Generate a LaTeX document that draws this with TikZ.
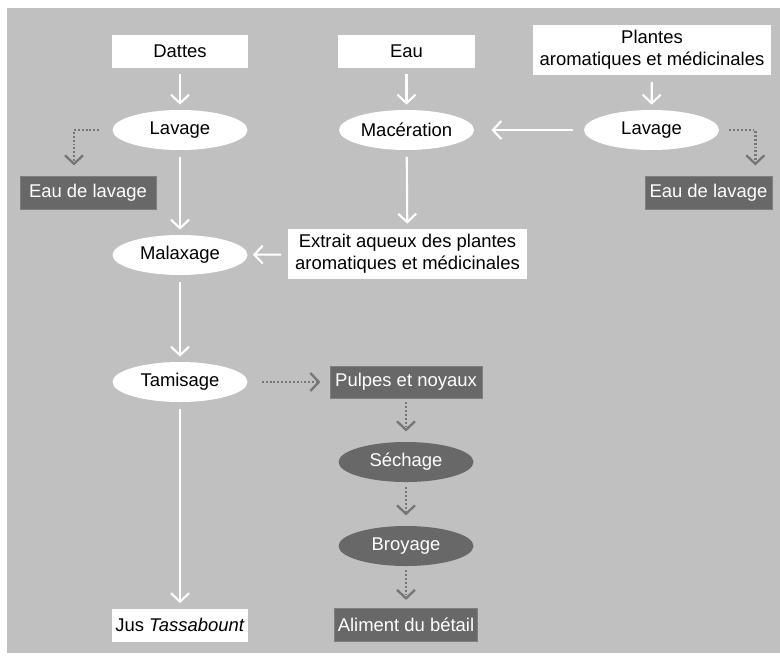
\documentclass[tikz,border=0pt]{standalone}
\usepackage{fontspec}
\setmainfont{Liberation Sans}
\usepackage{tikz}
\usetikzlibrary{arrows.meta,shapes.geometric}
\definecolor{bggray}{RGB}{192,192,192}
\definecolor{darkgray}{RGB}{104,104,104}
\definecolor{dotgray}{RGB}{118,118,118}

\begin{document}
\begin{tikzpicture}[
  every node/.style={font=\fontsize{10.5}{12.3}\selectfont},
  box/.style={rectangle, align=center, inner sep=2pt, minimum height=0.66cm},
  whitebox/.style={box, fill=white, text=black},
  darkbox/.style={box, fill=darkgray, text=white, draw=darkgray!85!white, line width=0.4pt},
  opwhite/.style={ellipse, fill=white, text=black, minimum width=2.7cm, minimum height=0.8cm, inner sep=1pt},
  opdark/.style={ellipse, fill=darkgray, text=white, minimum width=2.7cm, minimum height=0.8cm, inner sep=1pt},
  flow/.style={draw=white, line width=1.2pt, -{Straight Barb[length=1.7mm, width=3.6mm, line width=1.2pt]},
    shorten <=0.13cm, shorten >=0.1cm},
  dotflow/.style={draw=dotgray, line width=1.3pt, dash pattern=on 1.1pt off 1.1pt,
    -{Straight Barb[length=1.7mm, width=3.6mm, line width=1.3pt, sep]}}
]

\useasboundingbox (0,0) rectangle (15.6,-13.1);
\fill[bggray] (0.14,-0.16) rectangle (15.6,-13.06);

\node[whitebox, minimum width=2.72cm] (dattes) at (3.6,-1.02) {Dattes};
\node[whitebox, minimum width=2.74cm] (eau) at (8.13,-1.02) {Eau};
\node[whitebox, minimum width=4.76cm, minimum height=1cm] (plantes) at (13.04,-1.0) {Plantes\\aromatiques et médicinales};

\node[opwhite] (lavL) at (3.6,-2.6) {Lavage};
\node[opwhite] (mac) at (8.13,-2.6) {Macération};
\node[opwhite] (lavR) at (13.03,-2.6) {Lavage};

\node[darkbox, minimum width=2.72cm] (eauL) at (1.76,-3.85) {Eau de lavage};
\node[darkbox, minimum width=2.54cm] (eauR) at (14.17,-3.85) {Eau de lavage};

\node[opwhite] (malax) at (3.6,-5.1) {Malaxage};
\node[whitebox, minimum width=4.78cm, minimum height=1cm] (extrait) at (8.15,-5.08) {Extrait aqueux des plantes\\aromatiques et médicinales};

\node[opwhite] (tamis) at (3.6,-7.64) {Tamisage};
\node[darkbox, minimum width=3.04cm, minimum height=0.64cm] (pulpes) at (8.12,-7.64) {Pulpes et noyaux};
\node[opdark] (sechage) at (8.12,-9.24) {Séchage};
\node[opdark] (broyage) at (8.12,-10.92) {Broyage};

\node[whitebox, minimum width=2.72cm] (jus) at (3.6,-12.5) {Jus \textit{Tassabount}};
\node[darkbox, minimum width=2.72cm] (aliment) at (8.12,-12.5) {Aliment du bétail};

\draw[flow] (dattes) -- (lavL);
\draw[flow] (lavL) -- (malax);
\draw[flow] (malax) -- (tamis);
\draw[flow] (tamis) -- (jus);
\draw[flow] (eau) -- (mac);
\draw[flow] (mac) -- (extrait);
\draw[flow] (plantes) -- (lavR);
\draw[flow, shorten <=0.22cm, shorten >=0.34cm] (lavR) -- (mac);
\draw[flow] (extrait) -- (malax);

\draw[dotflow] ([xshift=-0.26cm]lavL.west) -| ([xshift=-0.28cm, yshift=0.16cm]eauL.north);
\draw[dotflow] ([xshift=0.2cm]lavR.east) -| ([xshift=-0.34cm, yshift=0.16cm]eauR.north east);
\draw[dotflow] ([xshift=0.28cm]tamis.east) -- ([xshift=-0.14cm]pulpes.west);
\draw[dotflow] ([yshift=-0.08cm]pulpes.south) -- ([yshift=0.16cm]sechage.north);
\draw[dotflow] ([yshift=-0.1cm]sechage.south) -- ([yshift=0.16cm]broyage.north);
\draw[dotflow] ([yshift=-0.08cm]broyage.south) -- ([yshift=0.12cm]aliment.north);

\end{tikzpicture}
\end{document}
